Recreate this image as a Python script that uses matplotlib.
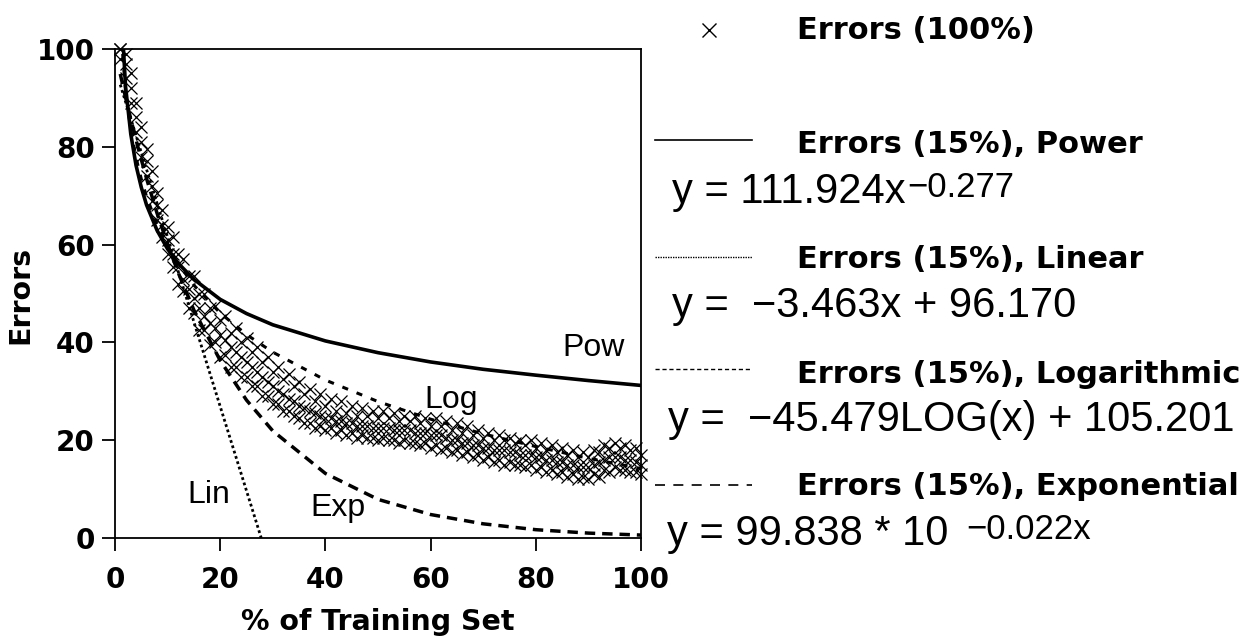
import matplotlib
matplotlib.use("Agg")
import matplotlib.pyplot as plt
from matplotlib.lines import Line2D
from matplotlib.transforms import IdentityTransform

# ---------------- data ----------------
# Errors (100%) observations (several runs, read from the band of x markers)
x_center = list(range(1, 101))
y_center = [100, 97, 92, 86, 81, 77, 72, 68, 64, 61,
            58, 55.5, 53, 51, 49, 47, 45.5, 44, 43, 41.5,
            40.5, 39, 38, 37, 36, 35, 34, 33, 32, 31,
            30, 29.5, 28.5, 28, 27, 26.5, 26, 25.5, 25, 24.5,
            24.5, 24, 24, 23.5, 23.5, 23, 23, 23, 22.5, 22.5,
            22.5, 22.5, 22, 22, 22, 22, 21.5, 21.5, 21.5, 21,
            21, 21, 20.5, 20, 20, 19.5, 19.5, 19, 19, 18.5,
            18.5, 18, 18, 18, 17.5, 17.5, 17, 17, 17, 16.5,
            16.5, 16, 16, 15.5, 15.5, 15, 15, 14.5, 14.5, 14.5,
            15, 15.5, 16, 16.5, 16.5, 16.5, 16, 16, 15.5, 15]

x_odd = list(range(1, 100, 2))
x_even = list(range(2, 101, 2))

y_upper = [100, 95, 84, 75, 67, 61.5, 57, 53.5, 50, 47.5,
           45.5, 43, 41, 39, 37, 35, 33.5, 32, 30.5, 29.5,
           28.5, 28, 27, 26.5, 26, 26, 25.5, 25, 25, 24.5,
           24.5, 24, 23.5, 23, 22, 21.5, 21, 20.5, 20, 20,
           19.5, 19, 18.5, 18, 17.5, 18, 19, 19.5, 19, 18.5]   # at x_odd

y_lower = [94, 83, 74, 65, 58, 52, 47, 42.5, 39.5, 37,
           35, 33, 31, 29, 27.5, 26, 25, 23.5, 22.5, 22,
           21.5, 21, 20.5, 20.5, 20, 20, 19.5, 19.5, 19, 18.5,
           18, 17.5, 17, 16.5, 16, 15.5, 15, 15, 14.5, 14,
           13.5, 13, 12.5, 12, 12, 12.5, 13.5, 14, 13.5, 13]   # at x_even

y_mid_hi = [99, 89, 79.5, 70.5, 63.5, 58, 53.5, 50, 47, 44.5,
            42, 40, 38, 36, 34, 32.5, 31, 29.5, 28, 27,
            26, 25.5, 25, 25, 24.5, 24.5, 24, 24, 23.5, 23,
            23, 22, 21.5, 21, 20.5, 20, 20, 19.5, 19, 18.5,
            18, 17.5, 17, 16.5, 16.5, 17.5, 18.5, 18.5, 18, 17]  # at x_even

y_mid_lo = [98, 89, 78, 69, 61.5, 55.5, 50.5, 46, 42.5, 40,
            37.5, 35, 33, 31, 29, 27.5, 26, 24.5, 23.5, 23,
            22.5, 22, 21.5, 21, 20.5, 20.5, 20, 20, 19.5, 19.5,
            19, 18.5, 18, 17.5, 17, 16.5, 16, 15.5, 15, 15,
            14.5, 14, 13.5, 13, 12.5, 13, 14, 14.5, 14, 13.5]   # at x_odd

# Trend lines (Errors 15%)
x_trend = [1, 2, 3, 4, 5, 6, 8, 10, 12, 15, 20, 25, 30, 40, 50, 60, 70, 80, 90, 100]
y_pow = [111.9, 92.4, 82.6, 76.2, 71.7, 68.1, 62.9, 59.1, 56.2, 52.9,
         48.8, 45.9, 43.6, 40.3, 37.9, 36.0, 34.5, 33.3, 32.2, 31.2]
y_log = [105.2, 91.5, 83.5, 77.8, 73.4, 69.8, 64.1, 59.7, 56.1, 51.7,
         46.0, 41.6, 38.0, 32.3, 27.9, 24.3, 21.3, 18.7, 16.3, 14.2]
y_exp = [94.9, 90.1, 85.7, 81.4, 77.4, 73.5, 66.4, 60.1, 54.3, 46.6,
         36.3, 28.2, 21.9, 13.2, 7.9, 4.8, 2.9, 1.7, 1.0, 0.6]
x_lin = [1, 10, 20, 27.8]
y_lin = [92.7, 61.5, 26.9, 0.0]

x_ticks = [0, 20, 40, 60, 80, 100]
y_ticks = [0, 20, 40, 60, 80, 100]

legend_titles = ["Errors (100%)", "Errors (15%), Power", "Errors (15%), Linear",
                 "Errors (15%), Logarithmic", "Errors (15%), Exponential"]
eq_main = ["y = 111.924x", "y =  \u22123.463x + 96.170",
           "y =  \u221245.479LOG(x) + 105.201", "y = 99.838 * 10"]
eq_exp = ["\u22120.277", "", "", "\u22120.022x"]
curve_labels = ["Pow", "Log", "Lin", "Exp"]

# ---------------- figure ----------------
W, H = 1239, 642
fig = plt.figure(figsize=(W / 100, H / 100), dpi=100)

BOLD = dict(family=['DejaVu Sans'], weight='bold')
REG = dict(family=['Liberation Sans', 'DejaVu Sans'])


def fx(px):
    return px / W


def fy(py):
    return 1 - py / H


ax = fig.add_axes([fx(115), fy(538), (641 - 115) / W, (538 - 49) / H])

mk = dict(ls='none', marker='x', color='black', ms=9, mew=0.9, clip_on=False)
ax.plot(x_center, y_center, **mk)
ax.plot(x_odd, y_upper, **mk)
ax.plot(x_even, y_lower, **mk)
ax.plot(x_even, y_mid_hi, **mk)
ax.plot(x_odd, y_mid_lo, **mk)

ax.plot(x_trend, y_pow, color='black', lw=2.6, ls='-')
ax.plot(x_lin, y_lin, color='black', lw=2.0, ls=(0, (1, 1)))
ax.plot(x_trend, y_log, color='black', lw=2.2, ls=(0, (2, 3)))
ax.plot(x_trend, y_exp, color='black', lw=2.5, ls=(0, (3, 2)))

ax.set_xlim(0, 100)
ax.set_ylim(0, 100)
ax.set_xticks(x_ticks)
ax.set_yticks(y_ticks)
ax.set_xticklabels([str(t) for t in x_ticks], fontsize=20, **BOLD)
ax.set_yticklabels([str(t) for t in y_ticks], fontsize=20, **BOLD)
ax.tick_params(axis='both', direction='out', length=9.5, width=1.3, color='black')
ax.tick_params(axis='x', pad=10.5)
ax.tick_params(axis='y', pad=5)
for s in ax.spines.values():
    s.set_linewidth(1.3)
    s.set_color('black')

# curve labels
label_pos = [(85.0, 37.2), (58.9, 26.6), (13.7, 7.2), (37.1, 4.5)]
for txt, (lx, ly) in zip(curve_labels, label_pos):
    ax.text(lx, ly, txt, fontsize=23, ha='left', va='baseline', **REG)

# axis titles
fig.text(fx(378), fy(622), "% of Training Set", fontsize=20.5, ha='center', va='center', **BOLD)
fig.text(fx(20), fy(295), "Errors", fontsize=20.5, ha='center', va='center', rotation=90, **BOLD)

# legend-like block
fig.add_artist(Line2D([fx(709)], [fy(30)], marker='x', ms=10, mew=1.0, color='black', lw=0))
samples = [dict(ls='-', lw=1.2), dict(ls=(0, (1, 0.8)), lw=1.0),
           dict(ls=(0, (3, 2)), lw=1.0), dict(ls=(0, (6, 5)), lw=1.2)]
line_y = [140, 257, 369, 485]
title_base = [39, 153, 268, 383, 495]
eq_base = [203, 317, 431, 545]
for i, t in enumerate(legend_titles):
    fig.text(fx(797), fy(title_base[i]), t, fontsize=22, ha='left', va='baseline', **BOLD)
for i, st in enumerate(samples):
    fig.add_artist(Line2D([fx(655), fx(752)], [fy(line_y[i])] * 2, color='black', **st))

renderer = fig.canvas.get_renderer()
eq_x = [672, 672, 668, 667]
exp_gap = [2, 0, 0, 18]
for i in range(4):
    t = fig.text(fx(eq_x[i]), fy(eq_base[i]), eq_main[i], fontsize=30,
                 ha='left', va='baseline', **REG)
    if eq_exp[i]:
        bb = t.get_window_extent(renderer)
        fig.text(bb.x1 + exp_gap[i], (H - eq_base[i]) + 6, eq_exp[i], fontsize=25,
                 ha='left', va='baseline', transform=IdentityTransform(), **REG)

fig.savefig("out.png", dpi=100, facecolor='white')
